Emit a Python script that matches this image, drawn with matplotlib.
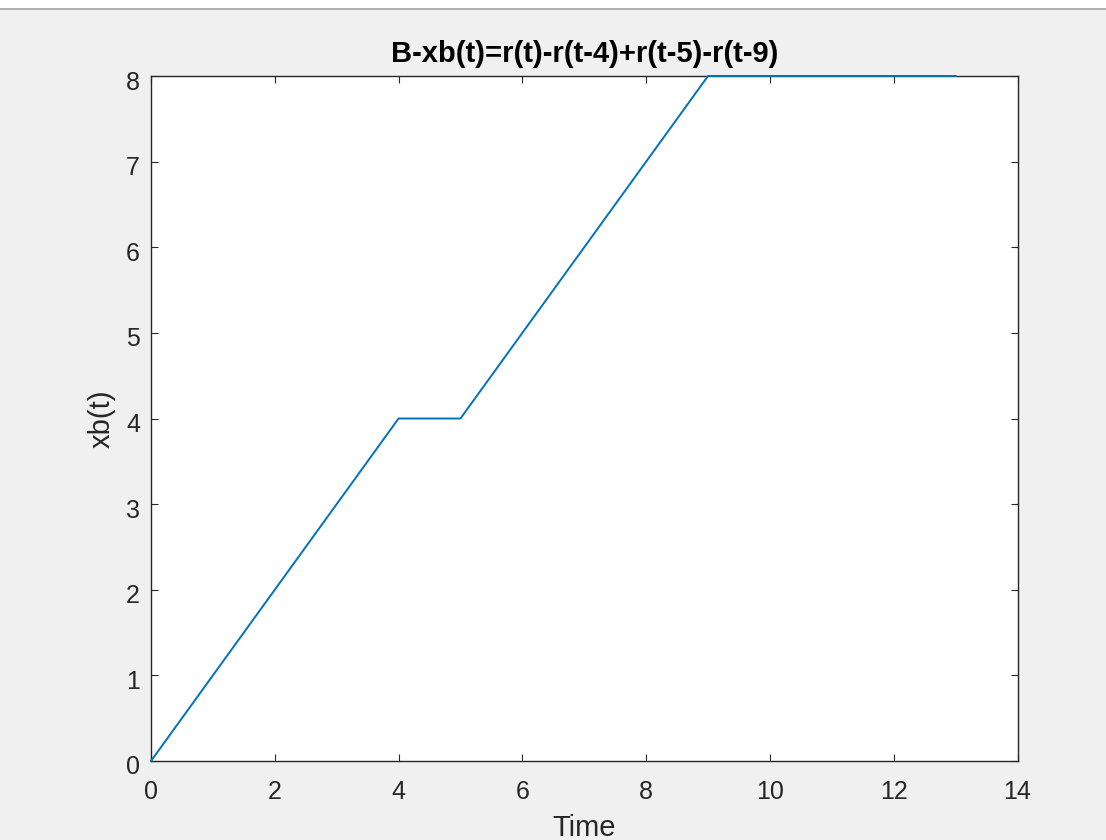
import matplotlib
matplotlib.use('Agg')
import matplotlib.pyplot as plt
from matplotlib.patches import Rectangle
from matplotlib.transforms import ScaledTranslation

# xb(t) = r(t) - r(t-4) + r(t-5) - r(t-9), breakpoints
t = [0, 4, 5, 9, 13]
xb = [0, 4, 4, 8, 8]
xticks = [0, 2, 4, 6, 8, 10, 12, 14]
yticks = [0, 1, 2, 3, 4, 5, 6, 7, 8]

plt.rcParams['font.family'] = ['Liberation Sans', 'DejaVu Sans']
txt = '#262626'

fig = plt.figure(figsize=(11.06, 8.4), dpi=100, facecolor='#f0f0f0')
# window strip at the top of the screenshot
fig.patches.append(Rectangle((0, 1 - 8/840), 1, 8/840, transform=fig.transFigure,
                             facecolor='white', edgecolor='none'))
fig.patches.append(Rectangle((0, 1 - 10/840), 1, 2/840, transform=fig.transFigure,
                             facecolor='#b0b0b0', edgecolor='none'))

ax = fig.add_axes([151/1106, 79/840, 866.5/1106, 685/840])
ax.plot(t, xb, color='#0072BD', linewidth=1.4, clip_on=False, zorder=3)
ax.set_xlim(0, 14)
ax.set_ylim(0, 8)
ax.set_xticks(xticks)
ax.set_yticks(yticks)
ax.tick_params(direction='in', top=True, right=True, length=5, width=0.8,
               colors=txt, labelsize=18)
ax.tick_params(axis='x', pad=14)
ax.tick_params(axis='y', pad=8)
# matlab draws y tick labels a little below the tick
off = ScaledTranslation(0, -4/100, fig.dpi_scale_trans)
for lab in ax.get_yticklabels():
    lab.set_transform(lab.get_transform() + off)
for s in ax.spines.values():
    s.set_color(txt)
    s.set_linewidth(1.0)
ax.set_title('B-xb(t)=r(t)-r(t-4)+r(t-5)-r(t-9)', fontsize=21, fontweight='bold',
             color='black', pad=10)
ax.set_xlabel('Time', fontsize=21, color=txt, labelpad=7)
ax.set_ylabel('xb(t)', fontsize=21, color=txt, labelpad=7)

fig.savefig('out.png', dpi=100, facecolor=fig.get_facecolor())
